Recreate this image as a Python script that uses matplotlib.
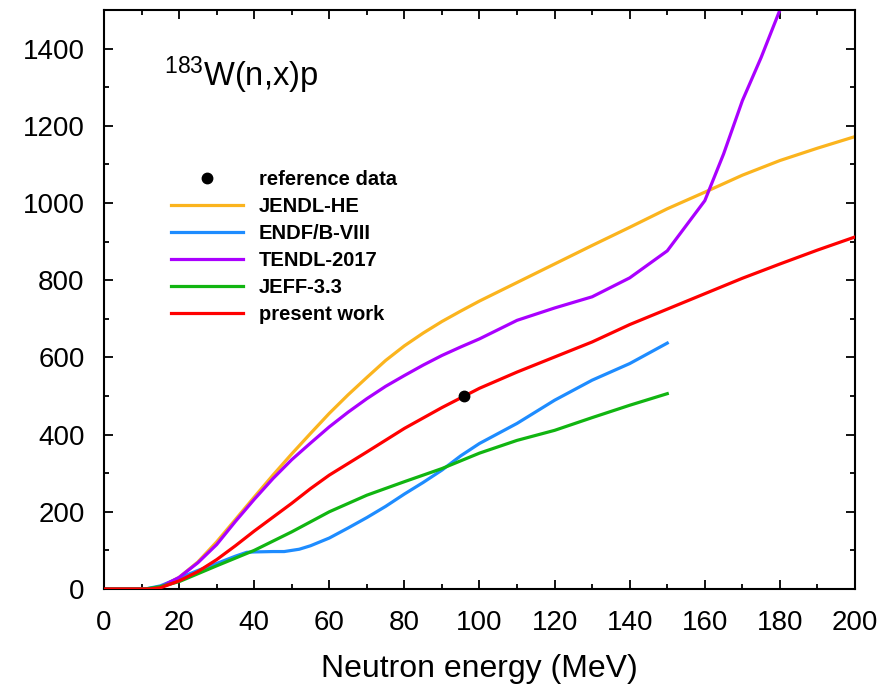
import matplotlib
matplotlib.use("Agg")
import matplotlib.pyplot as plt
from matplotlib.ticker import MultipleLocator

# ---- data ----
ref_x = [96]
ref_y = [500]

jendl_x = [0, 12, 15, 20, 25, 30, 35, 40, 45, 50, 55, 60, 65, 70, 75, 80, 85, 90, 95, 100, 110, 120, 130, 140, 150, 160, 170, 180, 190, 200]
jendl_y = [0, 0, 5, 30, 70, 122, 180, 238, 295, 350, 403, 455, 503, 548, 592, 630, 663, 693, 720, 746, 794, 842, 890, 937, 985, 1028, 1072, 1110, 1142, 1172]

endf_x = [0, 11, 15, 20, 25, 30, 35, 38, 40, 45, 48, 52, 55, 60, 65, 70, 75, 80, 85, 90, 95, 100, 110, 120, 130, 140, 150]
endf_y = [0, 0, 8, 28, 48, 66, 85, 95, 96, 97, 97, 103, 112, 132, 158, 185, 214, 246, 276, 308, 345, 377, 429, 489, 541, 584, 637]

tendl_x = [0, 12, 15, 20, 25, 30, 35, 40, 45, 50, 55, 60, 65, 70, 75, 80, 85, 90, 95, 100, 110, 120, 130, 140, 150, 160, 165, 170, 175, 180]
tendl_y = [0, 0, 5, 30, 68, 115, 175, 232, 286, 335, 378, 420, 458, 493, 525, 553, 580, 605, 627, 648, 696, 728, 757, 806, 876, 1006, 1127, 1265, 1377, 1500]

jeff_x = [0, 11, 15, 20, 30, 40, 50, 60, 70, 80, 90, 100, 110, 120, 130, 140, 150]
jeff_y = [0, 0, 6, 19, 60, 100, 148, 200, 243, 278, 312, 352, 385, 411, 444, 476, 506]

present_x = [0, 12, 15, 20, 25, 30, 35, 40, 45, 50, 55, 60, 70, 80, 90, 96, 100, 110, 120, 130, 140, 150, 160, 170, 180, 190, 200]
present_y = [0, 0, 3, 21, 45, 76, 112, 150, 186, 222, 260, 295, 355, 416, 470, 500, 520, 562, 601, 640, 685, 725, 765, 805, 842, 878, 912]

x_ticks = [0, 20, 40, 60, 80, 100, 120, 140, 160, 180, 200]
y_ticks = [0, 200, 400, 600, 800, 1000, 1200, 1400]

plt.rcParams['font.family'] = ['Liberation Sans', 'DejaVu Sans']
plt.rcParams['mathtext.fontset'] = 'custom'
plt.rcParams['mathtext.rm'] = 'Liberation Sans'
plt.rcParams['mathtext.it'] = 'Liberation Sans:italic'

fig = plt.figure(figsize=(8.94, 6.84), dpi=100)
ax = fig.add_axes([0.1163, 0.1389, 0.9564 - 0.1163, 0.9854 - 0.1389])

lw = 2.3
ax.plot(ref_x, ref_y, 'o', color='black', markersize=7.5, label='reference data', zorder=10)
ax.plot(jendl_x, jendl_y, color='#FBB41E', lw=lw, label='JENDL-HE')
ax.plot(endf_x, endf_y, color='#1E8CFF', lw=lw, label='ENDF/B-VIII')
ax.plot(tendl_x, tendl_y, color='#AA00FF', lw=lw, label='TENDL-2017')
ax.plot(jeff_x, jeff_y, color='#11B511', lw=lw, label='JEFF-3.3')
ax.plot(present_x, present_y, color='#FF0000', lw=lw, label='present work', zorder=5)

ax.set_xlim(0, 200)
ax.set_ylim(0, 1500)
ax.set_xticks(x_ticks)
ax.set_yticks(y_ticks)
ax.xaxis.set_minor_locator(MultipleLocator(10))
ax.yaxis.set_minor_locator(MultipleLocator(100))
ax.tick_params(which='both', direction='in', top=True, right=True, width=1.3)
ax.tick_params(which='major', length=6.5)
ax.tick_params(which='minor', length=3.5)
ax.tick_params(axis='x', which='major', labelsize=20, pad=15)
ax.tick_params(axis='y', which='major', labelsize=20, pad=14)
for s in ax.spines.values():
    s.set_linewidth(1.5)

ax.set_xlabel('Neutron energy (MeV)', fontsize=23, labelpad=13)

ax.text(0.08, 0.868, r'$^{183}$W(n,x)p', transform=ax.transAxes, fontsize=23.5,
        ha='left', va='baseline')

leg = ax.legend(loc='upper left', bbox_to_anchor=(0.065, 0.755), frameon=False,
                handlelength=3.6, handletextpad=0.75,
                labelspacing=0.40, numpoints=1,
                prop={'size': 14.5, 'weight': 'bold'})

fig.savefig('out.png', dpi=100)
